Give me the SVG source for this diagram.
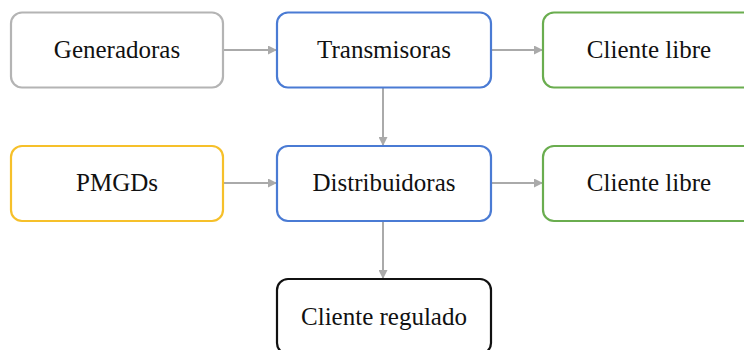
<svg xmlns="http://www.w3.org/2000/svg" width="744" height="350" viewBox="0 0 744 350">
<style>
.box{fill:#ffffff;stroke-width:2.2}
.lbl{font-family:'Liberation Serif','Times New Roman',serif;font-size:25px;fill:#111111;text-anchor:middle}
.con{stroke:#aaaaaa;stroke-width:2;fill:none;marker-end:url(#ah)}
</style>
<defs>
<marker id="ah" markerWidth="9" markerHeight="9" refX="8" refY="4.5" orient="auto" markerUnits="userSpaceOnUse">
<path d="M0,0 L9,4.5 L0,9 Z" fill="#aaaaaa"/>
</marker>
</defs>
<rect width="744" height="350" fill="#ffffff"/>
<g id="connectors">
<line class="con" x1="224" y1="50" x2="276" y2="50"/>
<line class="con" x1="491" y1="50" x2="542" y2="50"/>
<line class="con" x1="224" y1="183" x2="276" y2="183"/>
<line class="con" x1="491" y1="183" x2="542" y2="183"/>
<line class="con" x1="383" y1="88" x2="383" y2="145"/>
<line class="con" x1="383" y1="221" x2="383" y2="278"/>
</g>
<g id="generadoras">
<rect class="box" x="11" y="12.5" width="212" height="75" rx="11" stroke="#b4b4b4"/>
<text class="lbl" x="117" y="58">Generadoras</text>
</g>
<g id="transmisoras">
<rect class="box" x="277" y="12.5" width="214" height="75" rx="11" stroke="#4a7bd4"/>
<text class="lbl" x="384" y="58">Transmisoras</text>
</g>
<g id="cliente-libre-1">
<rect class="box" x="543" y="12.5" width="213" height="75" rx="11" stroke="#6aad4f"/>
<text class="lbl" x="649" y="58">Cliente libre</text>
</g>
<g id="pmgds">
<rect class="box" x="11" y="146" width="212" height="75" rx="11" stroke="#f6c02a"/>
<text class="lbl" x="117" y="191">PMGDs</text>
</g>
<g id="distribuidoras">
<rect class="box" x="277" y="146" width="214" height="75" rx="11" stroke="#4a7bd4"/>
<text class="lbl" x="384" y="191">Distribuidoras</text>
</g>
<g id="cliente-libre-2">
<rect class="box" x="543" y="146" width="213" height="75" rx="11" stroke="#6aad4f"/>
<text class="lbl" x="649" y="191">Cliente libre</text>
</g>
<g id="cliente-regulado">
<rect class="box" x="277" y="279" width="214" height="75" rx="11" stroke="#111111"/>
<text class="lbl" x="384" y="325">Cliente regulado</text>
</g>
</svg>
